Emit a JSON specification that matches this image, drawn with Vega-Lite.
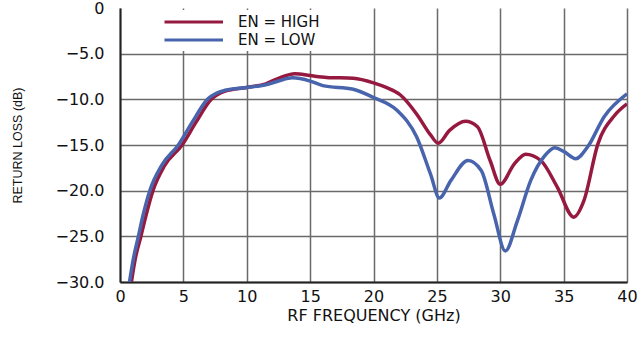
{
  "$schema": "https://vega.github.io/schema/vega-lite/v6.json",
  "autosize": "none",
  "width": 507,
  "height": 274,
  "padding": {"left": 120, "top": 8, "right": 13, "bottom": 78},
  "background": "white",
  "data": {"values": [
    {"f": 0.9, "rl": -30, "s": "EN = HIGH"},
    {"f": 1.2, "rl": -27.5, "s": "EN = HIGH"},
    {"f": 1.65, "rl": -25, "s": "EN = HIGH"},
    {"f": 2.0, "rl": -23, "s": "EN = HIGH"},
    {"f": 2.6, "rl": -20, "s": "EN = HIGH"},
    {"f": 3.5, "rl": -17.3, "s": "EN = HIGH"},
    {"f": 4.9, "rl": -15, "s": "EN = HIGH"},
    {"f": 6.0, "rl": -12.5, "s": "EN = HIGH"},
    {"f": 7.2, "rl": -10, "s": "EN = HIGH"},
    {"f": 8.3, "rl": -9.1, "s": "EN = HIGH"},
    {"f": 10.0, "rl": -8.7, "s": "EN = HIGH"},
    {"f": 11.5, "rl": -8.3, "s": "EN = HIGH"},
    {"f": 12.5, "rl": -7.7, "s": "EN = HIGH"},
    {"f": 13.8, "rl": -7.2, "s": "EN = HIGH"},
    {"f": 15.0, "rl": -7.4, "s": "EN = HIGH"},
    {"f": 16.3, "rl": -7.6, "s": "EN = HIGH"},
    {"f": 18.4, "rl": -7.7, "s": "EN = HIGH"},
    {"f": 20.0, "rl": -8.2, "s": "EN = HIGH"},
    {"f": 21.0, "rl": -8.7, "s": "EN = HIGH"},
    {"f": 22.1, "rl": -9.5, "s": "EN = HIGH"},
    {"f": 23.4, "rl": -11.6, "s": "EN = HIGH"},
    {"f": 24.5, "rl": -13.9, "s": "EN = HIGH"},
    {"f": 25.1, "rl": -14.8, "s": "EN = HIGH"},
    {"f": 26.0, "rl": -13.4, "s": "EN = HIGH"},
    {"f": 27.25, "rl": -12.4, "s": "EN = HIGH"},
    {"f": 28.2, "rl": -13.0, "s": "EN = HIGH"},
    {"f": 29.2, "rl": -16.7, "s": "EN = HIGH"},
    {"f": 30.0, "rl": -19.3, "s": "EN = HIGH"},
    {"f": 31.1, "rl": -17.1, "s": "EN = HIGH"},
    {"f": 32.0, "rl": -16.0, "s": "EN = HIGH"},
    {"f": 33.2, "rl": -16.7, "s": "EN = HIGH"},
    {"f": 34.5, "rl": -19.6, "s": "EN = HIGH"},
    {"f": 35.8, "rl": -22.9, "s": "EN = HIGH"},
    {"f": 36.6, "rl": -21.1, "s": "EN = HIGH"},
    {"f": 37.7, "rl": -14.9, "s": "EN = HIGH"},
    {"f": 39.0, "rl": -11.8, "s": "EN = HIGH"},
    {"f": 40.0, "rl": -10.5, "s": "EN = HIGH"},
    {"f": 0.75, "rl": -30, "s": "EN = LOW"},
    {"f": 1.05, "rl": -27.5, "s": "EN = LOW"},
    {"f": 1.45, "rl": -25, "s": "EN = LOW"},
    {"f": 1.8, "rl": -22.8, "s": "EN = LOW"},
    {"f": 2.35, "rl": -20, "s": "EN = LOW"},
    {"f": 3.3, "rl": -17.2, "s": "EN = LOW"},
    {"f": 4.6, "rl": -15, "s": "EN = LOW"},
    {"f": 5.7, "rl": -12.5, "s": "EN = LOW"},
    {"f": 6.9, "rl": -10, "s": "EN = LOW"},
    {"f": 8.3, "rl": -9.0, "s": "EN = LOW"},
    {"f": 10.0, "rl": -8.7, "s": "EN = LOW"},
    {"f": 11.5, "rl": -8.4, "s": "EN = LOW"},
    {"f": 12.5, "rl": -8.0, "s": "EN = LOW"},
    {"f": 13.6, "rl": -7.65, "s": "EN = LOW"},
    {"f": 15.0, "rl": -8.0, "s": "EN = LOW"},
    {"f": 16.0, "rl": -8.5, "s": "EN = LOW"},
    {"f": 18.4, "rl": -8.9, "s": "EN = LOW"},
    {"f": 20.0, "rl": -9.8, "s": "EN = LOW"},
    {"f": 21.85, "rl": -11.2, "s": "EN = LOW"},
    {"f": 23.4, "rl": -14.1, "s": "EN = LOW"},
    {"f": 24.5, "rl": -18.2, "s": "EN = LOW"},
    {"f": 25.2, "rl": -20.8, "s": "EN = LOW"},
    {"f": 26.1, "rl": -18.9, "s": "EN = LOW"},
    {"f": 27.45, "rl": -16.7, "s": "EN = LOW"},
    {"f": 28.5, "rl": -17.8, "s": "EN = LOW"},
    {"f": 29.5, "rl": -22.6, "s": "EN = LOW"},
    {"f": 30.4, "rl": -26.6, "s": "EN = LOW"},
    {"f": 31.35, "rl": -23.3, "s": "EN = LOW"},
    {"f": 32.4, "rl": -18.9, "s": "EN = LOW"},
    {"f": 33.5, "rl": -16.2, "s": "EN = LOW"},
    {"f": 34.3, "rl": -15.3, "s": "EN = LOW"},
    {"f": 35.0, "rl": -15.7, "s": "EN = LOW"},
    {"f": 35.96, "rl": -16.5, "s": "EN = LOW"},
    {"f": 36.9, "rl": -15.2, "s": "EN = LOW"},
    {"f": 38.2, "rl": -11.9, "s": "EN = LOW"},
    {"f": 40.0, "rl": -9.4, "s": "EN = LOW"}
  ]},
  "mark": {"type": "line", "interpolate": "monotone", "strokeWidth": 3.5, "clip": true},
  "encoding": {
    "x": {
      "field": "f", "type": "quantitative",
      "scale": {"domain": [0, 40], "nice": false},
      "axis": {
        "values": [0, 5, 10, 15, 20, 25, 30, 35, 40],
        "title": "RF FREQUENCY (GHz)",
        "titleFont": "DejaVu Sans", "titleFontSize": 16, "titleFontWeight": "normal", "titleColor": "#111", "titlePadding": 3,
        "labelFont": "DejaVu Sans", "labelFontSize": 16, "labelColor": "#111", "labelPadding": 6, "labelFlush": false,
        "ticks": false, "domainColor": "#222", "domainWidth": 2,
        "grid": true, "gridColor": "#6a6a6a", "gridWidth": 1.5
      }
    },
    "y": {
      "field": "rl", "type": "quantitative",
      "scale": {"domain": [-30, 0], "nice": false},
      "axis": {
        "values": [-30, -25, -20, -15, -10, -5, 0],
        "labelExpr": "datum.value == 0 ? '0' : replace(format(datum.value, '.1f'), '-', '\u2013')",
        "title": "RETURN LOSS (dB)",
        "titleFont": "Liberation Sans", "titleFontSize": 12.5, "titleFontWeight": "normal", "titleColor": "#111", "titlePadding": 30,
        "labelFont": "DejaVu Sans", "labelFontSize": 16, "labelColor": "#111", "labelPadding": 16,
        "ticks": false, "domainColor": "#222", "domainWidth": 2,
        "grid": true, "gridWidth": 1.5,
        "gridColor": {"condition": {"test": "datum.value == 0", "value": "transparent"}, "value": "#6a6a6a"}
      }
    },
    "color": {
      "field": "s", "type": "nominal",
      "scale": {"domain": ["EN = HIGH", "EN = LOW"], "range": ["#961a40", "#4864ac"]},
      "legend": {
        "title": null, "orient": "none", "legendX": 40, "legendY": 2,
        "symbolType": "M-1,0H6.8", "symbolSize": 225, "symbolStrokeWidth": 3,
        "labelFont": "DejaVu Sans", "labelFontSize": 15, "labelColor": "#111", "labelOffset": 57,
        "fillColor": "white", "padding": 3, "rowPadding": 1
      }
    }
  },
  "config": {"view": {"stroke": null}}
}
